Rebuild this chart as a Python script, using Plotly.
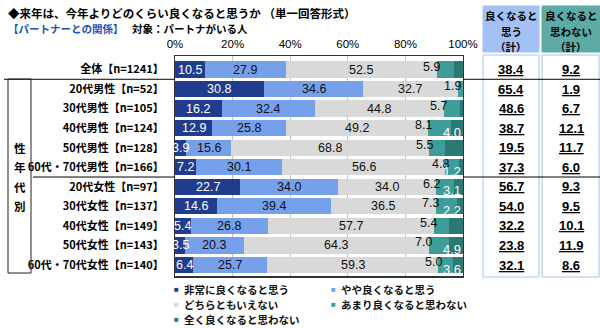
import plotly.graph_objects as go

# ---- data -------------------------------------------------------------
categories = [
    "全体【n=1241】",
    "20代男性【n=52】",
    "30代男性【n=105】",
    "40代男性【n=124】",
    "50代男性【n=128】",
    "60代・70代男性【n=166】",
    "20代女性【n=97】",
    "30代女性【n=137】",
    "40代女性【n=149】",
    "50代女性【n=143】",
    "60代・70代女性【n=140】",
]
very_good = [10.5, 30.8, 16.2, 12.9, 3.9, 7.2, 22.7, 14.6, 5.4, 3.5, 6.4]
somewhat_good = [27.9, 34.6, 32.4, 25.8, 15.6, 30.1, 34.0, 39.4, 26.8, 20.3, 25.7]
neutral = [52.5, 32.7, 44.8, 49.2, 68.8, 56.6, 34.0, 36.5, 57.7, 64.3, 59.3]
not_much = [5.9, 1.9, 5.7, 8.1, 5.5, 4.8, 6.2, 7.3, 5.4, 7.0, 5.0]
not_at_all = [3.3, 0.0, 1.0, 4.0, 6.3, 1.2, 3.1, 2.2, 4.7, 4.9, 3.6]
good_total = [38.4, 65.4, 48.6, 38.7, 19.5, 37.3, 56.7, 54.0, 32.2, 23.8, 32.1]
bad_total = [9.2, 1.9, 6.7, 12.1, 11.7, 6.0, 9.3, 9.5, 10.1, 11.9, 8.6]

series_names = [
    "非常に良くなると思う",
    "やや良くなると思う",
    "どちらともいえない",
    "あまり良くなると思わない",
    "全く良くなると思わない",
]
series_values = [very_good, somewhat_good, neutral, not_much, not_at_all]
series_colors = ["#1f3d8c", "#77a0ea", "#d9d9d9", "#3f9d99", "#2a7a73"]

x_ticks = [0, 20, 40, 60, 80, 100]
x_tick_labels = ["0%", "20%", "40%", "60%", "80%", "100%"]

# ---- layout geometry (pixels) ----------------------------------------
W, H = 600, 328
X0, X1 = 175, 463
Y0, Y1 = 56, 277

JP = "Noto Sans CJK JP"
NUM = "Liberation Sans"


def pxx(p):
    return (p - X0) / (X1 - X0)


def pyy(p):
    return (Y1 - p) / (Y1 - Y0)


def note(**kw):
    base = dict(showarrow=False, xanchor="center", yanchor="middle")
    base.update(kw)
    return base


fig = go.Figure()
for name, vals, col in zip(series_names, series_values, series_colors):
    fig.add_trace(go.Bar(
        y=categories, x=vals, name=name, orientation="h",
        marker=dict(color=col, line=dict(width=0)),
        showlegend=False, hoverinfo="skip",
    ))

ann = []

# value labels on the bars
for i, cat in enumerate(categories):
    v = [s[i] for s in series_values]
    starts = [sum(v[:k]) for k in range(5)]
    colors = ["white", "#111111", "#111111"]
    for k in range(3):
        ann.append(note(x=starts[k] + v[k] / 2, y=cat, xref="x", yref="y",
                        text=f"{v[k]:.1f}",
                        font=dict(family=NUM, size=12.5, color=colors[k])))
    if v[3] > 0:
        ann.append(note(x=starts[3], y=cat, xref="x", yref="y",
                        text=f"{v[3]:.1f}", yshift=3, xshift=-5,
                        font=dict(family=NUM, size=12.5, color="#111111")))
    if v[4] > 0:
        ann.append(note(x=starts[4] + v[4], y=cat, xref="x", yref="y",
                        text=f"{v[4]:.1f}", yshift=-4, xanchor="right",
                        font=dict(family=NUM, size=13, color="white")))

# title lines
ann.append(note(x=pxx(6), y=pyy(13), xref="paper", yref="paper",
                text="◆来年は、今年よりどのくらい良くなると思うか （単一回答形式）",
                xanchor="left",
                font=dict(family=JP, size=11.5, color="black", weight="bold")))
ann.append(note(x=pxx(6), y=pyy(29), xref="paper", yref="paper",
                text="【パートナーとの関係】", xanchor="left",
                font=dict(family=JP, size=10.5, color="#2350b8", weight="bold")))
ann.append(note(x=pxx(130), y=pyy(29), xref="paper", yref="paper",
                text="対象：パートナがいる人", xanchor="left",
                font=dict(family=JP, size=10.5, color="black", weight="bold")))

# vertical group label
for ch, row in zip("性年代別", [4, 5, 6, 7]):
    ann.append(note(x=pxx(20), y=categories[row], xref="paper", yref="y",
                    text=ch,
                    font=dict(family=JP, size=11.5, color="black", weight="bold")))

# summary columns
COL1 = (483, 539)
COL2 = (542, 600)
head1 = ["良くなると", "思う", "（計）"]
head2 = ["良くなると", "思わない", "（計）"]
for (c0, c1), lines in ((COL1, head1), (COL2, head2)):
    for txt, yy in zip(lines, [15, 32, 47]):
        ann.append(note(x=pxx((c0 + c1) / 2), y=pyy(yy), xref="paper", yref="paper",
                        text=txt,
                        font=dict(family=JP, size=10.5, color="black", weight="bold")))
for cat, g, b in zip(categories, good_total, bad_total):
    for (c0, c1), val in ((COL1, g), (COL2, b)):
        ann.append(note(x=pxx((c0 + c1) / 2), y=cat, xref="paper", yref="y",
                        text=f"<u>{val:.1f}</u>",
                        font=dict(family=NUM, size=13, color="black", weight="bold")))

# legend
legend_pos = [(176, 289), (333, 289), (176, 304), (333, 304), (176, 319)]
for name, col, (lx, ly) in zip(series_names, series_colors, legend_pos):
    ann.append(note(x=pxx(lx), y=pyy(ly), xref="paper", yref="paper",
                    text="■", font=dict(family=NUM, size=8, color=col)))
    ann.append(note(x=pxx(lx + 6), y=pyy(ly), xref="paper", yref="paper",
                    text=name, xanchor="left",
                    font=dict(family=JP, size=10.5, color="#111111", weight="bold")))

shapes = []
# header cells and column boxes
shapes.append(dict(type="rect", xref="paper", yref="paper",
                   x0=pxx(COL1[0]), x1=pxx(COL1[1]), y0=pyy(52), y1=pyy(6),
                   fillcolor="#a3c1f3", line=dict(color="#a3c1f3", width=1), layer="below"))
shapes.append(dict(type="rect", xref="paper", yref="paper",
                   x0=pxx(COL2[0]), x1=pxx(COL2[1]), y0=pyy(52), y1=pyy(6),
                   fillcolor="#5eaaa5", line=dict(color="#5eaaa5", width=1), layer="below"))
shapes.append(dict(type="rect", xref="paper", yref="paper",
                   x0=pxx(COL1[0]), x1=pxx(COL1[1]), y0=pyy(277), y1=pyy(55),
                   fillcolor="white", line=dict(color="#a9c4ee", width=1), layer="below"))
shapes.append(dict(type="rect", xref="paper", yref="paper",
                   x0=pxx(COL2[0]), x1=pxx(COL2[1] - 1), y0=pyy(277), y1=pyy(55),
                   fillcolor="white", line=dict(color="#a9c2dc", width=1), layer="below"))

# group separators
for ybetween, left in ((0.5, 4), (5.5, 33)):
    shapes.append(dict(type="line", xref="paper", yref="y",
                       x0=pxx(left), x1=0, y0=ybetween, y1=ybetween,
                       line=dict(color="black", width=1)))
    shapes.append(dict(type="line", xref="paper", yref="y",
                       x0=1, x1=pxx(600), y0=ybetween, y1=ybetween,
                       line=dict(color="black", width=1)))

# box around the age/sex group label
shapes.append(dict(type="rect", xref="paper", yref="paper",
                   x0=pxx(8), x1=pxx(31), y0=pyy(273), y1=pyy(79),
                   line=dict(color="#222222", width=1)))

# heavier base line under the bars
shapes.append(dict(type="line", xref="paper", yref="paper",
                   x0=0, x1=1, y0=0, y1=0, line=dict(color="#333333", width=2)))

fig.update_layout(
    width=W, height=H,
    margin=dict(l=X0, r=W - X1, t=Y0, b=H - Y1, pad=0),
    barmode="stack", bargap=0.17,
    paper_bgcolor="white", plot_bgcolor="white",
    annotations=ann, shapes=shapes,
    showlegend=False,
    xaxis=dict(
        range=[0, 100], side="top", tickvals=x_ticks, ticktext=x_tick_labels,
        showgrid=True, gridcolor="#c4c4c4", gridwidth=1,
        showline=True, linecolor="#333333", linewidth=1, mirror=True,
        zeroline=False, ticks="", ticklabelstandoff=2,
        tickfont=dict(family=NUM, size=11.5, color="black"),
        fixedrange=True,
    ),
    yaxis=dict(
        categoryorder="array", categoryarray=categories, autorange="reversed",
        showline=True, linecolor="#333333", linewidth=1, mirror=True,
        showgrid=False, zeroline=False, ticks="", ticklabelstandoff=8,
        tickfont=dict(family=JP, size=11, color="black", weight="bold"),
        fixedrange=True,
    ),
)

fig.write_html("out.html", config={"displayModeBar": False})
